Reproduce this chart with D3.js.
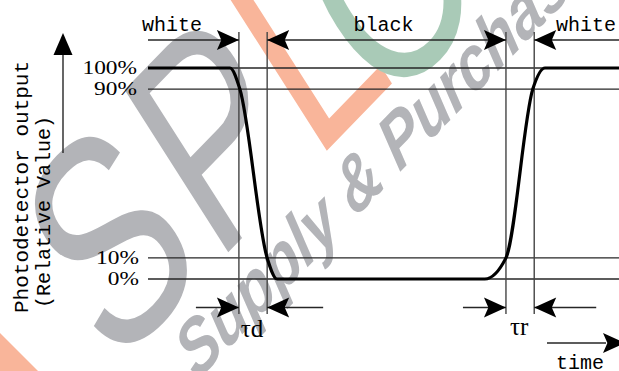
<!DOCTYPE html>
<html><head><meta charset="utf-8">
<script src="https://cdn.jsdelivr.net/npm/d3@7"></script>
<style>html,body{margin:0;padding:0;background:#fff;overflow:hidden}</style>
</head><body>
<svg id="c" width="619" height="371"></svg>
<script>
// ---- data ----
const timeDomain = [0, 100];
const valueDomain = [0, 100];
const levelValues = [100, 90, 10, 0];
const levelLabels = ["100%", "90%", "10%", "0%"];
const waveTimes  = [0, 17.4, 19.5, 25.3, 27.4, 71.5, 76.0, 81.7, 84.3, 100];
const waveValues = [100, 100, 90, 10, 0, 0, 10, 90, 100, 100];
const markerTimes = [19.3, 25.3, 76.0, 82.0];
const stateLabels = ["white", "black", "white"];
const stateLabelTimes = [5.1, 50.0, 93.0];
const tauLabels = ["τd", "τr"];
const yAxisTitle = ["Photodetector output", "(Relative Value)"];
const xAxisTitle = "time";
const watermarkLetters = ["S", "P", "L", "C"];
const watermarkText = "Supply & Purchase";

// ---- layout ----
const svg = d3.select("#c");
const x = d3.scaleLinear().domain(timeDomain).range([148, 619]);
const y = d3.scaleLinear().domain(valueDomain).range([279, 68]);
const GRAY = "#b3b4b8", ORANGE = "#f9b59a", GREEN = "#a9cab7";
const lineCol = "#262626";

// ---- watermark ----
const wm = svg.append("g").attr("class", "watermark");
const letterColors = [GRAY, GRAY, ORANGE, GREEN];
const logo = wm.append("text")
  .attr("transform", "matrix(0.697,-0.718,0.711,1.114,112,372)")
  .attr("font-family", "Liberation Sans, Arial, sans-serif")
  .attr("font-size", 212);
watermarkLetters.forEach((l, i) => {
  const ts = logo.append("tspan").attr("fill", letterColors[i]).text(l);
  if (i === 1) ts.attr("dx", 8);
  if (i === 3) ts.attr("dx", -34).attr("dy", 12);
});
wm.append("text")
  .attr("transform", "matrix(0.697,-0.718,0.62,0.97,197,381)")
  .attr("font-family", "Liberation Sans, Arial, sans-serif")
  .attr("font-size", 63).attr("font-weight", "bold").attr("font-style", "italic")
  .attr("fill", GRAY).text(watermarkText);
wm.append("rect").attr("width", 60).attr("height", 60)
  .attr("transform", "translate(0,333) rotate(45)").attr("fill", ORANGE);

// ---- level lines ----
const g = svg.append("g");
g.selectAll("line.level").data(levelValues).join("line")
  .attr("x1", x(timeDomain[0])).attr("x2", x(timeDomain[1]))
  .attr("y1", d => y(d)).attr("y2", d => y(d))
  .attr("stroke", lineCol).attr("stroke-width", 1.4);

// level labels
levelValues.forEach((v, i) => {
  g.append("text")
    .attr("transform", `translate(${137 + (v <= 10 ? 2 : 0)},${y(v) + 6}) scale(1.3,1)`)
    .attr("text-anchor", "end")
    .attr("font-family", "Liberation Serif, Times New Roman, serif")
    .attr("font-size", 18).attr("fill", "#000")
    .text(levelLabels[i]);
});

// ---- marker verticals ----
g.selectAll("line.marker").data(markerTimes).join("line")
  .attr("x1", d => x(d)).attr("x2", d => x(d))
  .attr("y1", 32).attr("y2", 314)
  .attr("stroke", "#444").attr("stroke-width", 1.4);

// arrowhead helper (slightly notched back)
function arrowHead(tx, ty, dir, len = 22, hw = 10) {
  const bx = tx - dir * len, nx = tx - dir * (len * 0.8);
  return `M${tx},${ty}L${bx},${ty - hw}L${nx},${ty}L${bx},${ty + hw}Z`;
}

// ---- top state arrows ----
const topY = 40;
const topSegs = [[x(timeDomain[0]), x(markerTimes[0])], [x(markerTimes[1]), x(markerTimes[2])], [x(markerTimes[3]), x(timeDomain[1])]];
topSegs.forEach(s => g.append("line").attr("x1", s[0]).attr("x2", s[1]).attr("y1", topY).attr("y2", topY)
  .attr("stroke", lineCol).attr("stroke-width", 1.4));
[[markerTimes[0], 1], [markerTimes[1], -1], [markerTimes[2], 1], [markerTimes[3], -1]].forEach(([t, d]) =>
  g.append("path").attr("d", arrowHead(x(t), topY, d)).attr("fill", "#000"));
stateLabels.forEach((s, i) => g.append("text")
  .attr("x", x(stateLabelTimes[i])).attr("y", 31).attr("text-anchor", "middle")
  .attr("font-family", "Liberation Mono, monospace").attr("font-size", 20).attr("fill", "#000").text(s));

// ---- bottom tau arrows ----
const botY = 307.5;
const pairs = [[markerTimes[0], markerTimes[1], 43, 56], [markerTimes[2], markerTimes[3], 43, 62]];
pairs.forEach(([a, b, lo, ro], i) => {
  g.append("line").attr("x1", x(a) - lo).attr("x2", x(a)).attr("y1", botY).attr("y2", botY).attr("stroke", lineCol).attr("stroke-width", 1.4);
  g.append("line").attr("x1", x(b)).attr("x2", x(b) + ro).attr("y1", botY).attr("y2", botY).attr("stroke", lineCol).attr("stroke-width", 1.4);
  g.append("path").attr("d", arrowHead(x(a), botY, 1)).attr("fill", "#000");
  g.append("path").attr("d", arrowHead(x(b), botY, -1)).attr("fill", "#000");
  g.append("text").attr("x", (x(a) + x(b)) / 2 - 1).attr("y", 337 - i * 2).attr("text-anchor", "middle")
    .attr("font-family", "Liberation Serif, Times New Roman, serif").attr("font-size", 25).attr("fill", "#000")
    .text(tauLabels[i]);
});

// ---- waveform ----
const wave = waveTimes.map((t, i) => [t, waveValues[i]]);
g.append("path").datum(wave)
  .attr("d", d3.line().x(d => x(d[0])).y(d => y(d[1])).curve(d3.curveMonotoneX))
  .attr("fill", "none").attr("stroke", "#000").attr("stroke-width", 3.2);

// ---- axis arrows ----
g.append("line").attr("x1", 63).attr("x2", 63).attr("y1", 153).attr("y2", 52).attr("stroke", lineCol).attr("stroke-width", 1.4);
g.append("path").attr("d", "M63,33L53.5,55L72.5,55Z").attr("fill", "#000");
g.append("line").attr("x1", 547).attr("x2", 606).attr("y1", 343).attr("y2", 343).attr("stroke", lineCol).attr("stroke-width", 1.4);
g.append("path").attr("d", arrowHead(625, 343, 1)).attr("fill", "#000");
g.append("text").attr("x", 556).attr("y", 369).attr("font-family", "Liberation Mono, monospace").attr("font-size", 20).attr("fill", "#000").text(xAxisTitle);

// y title
g.append("text").attr("transform", "translate(28,313) rotate(-90)")
  .attr("font-family", "Liberation Mono, monospace").attr("font-size", 21).attr("fill", "#000").text(yAxisTitle[0]);
g.append("text").attr("transform", "translate(50,308) rotate(-90)")
  .attr("font-family", "Liberation Mono, monospace").attr("font-size", 20).attr("fill", "#000").text(yAxisTitle[1]);
</script>
</body></html>
